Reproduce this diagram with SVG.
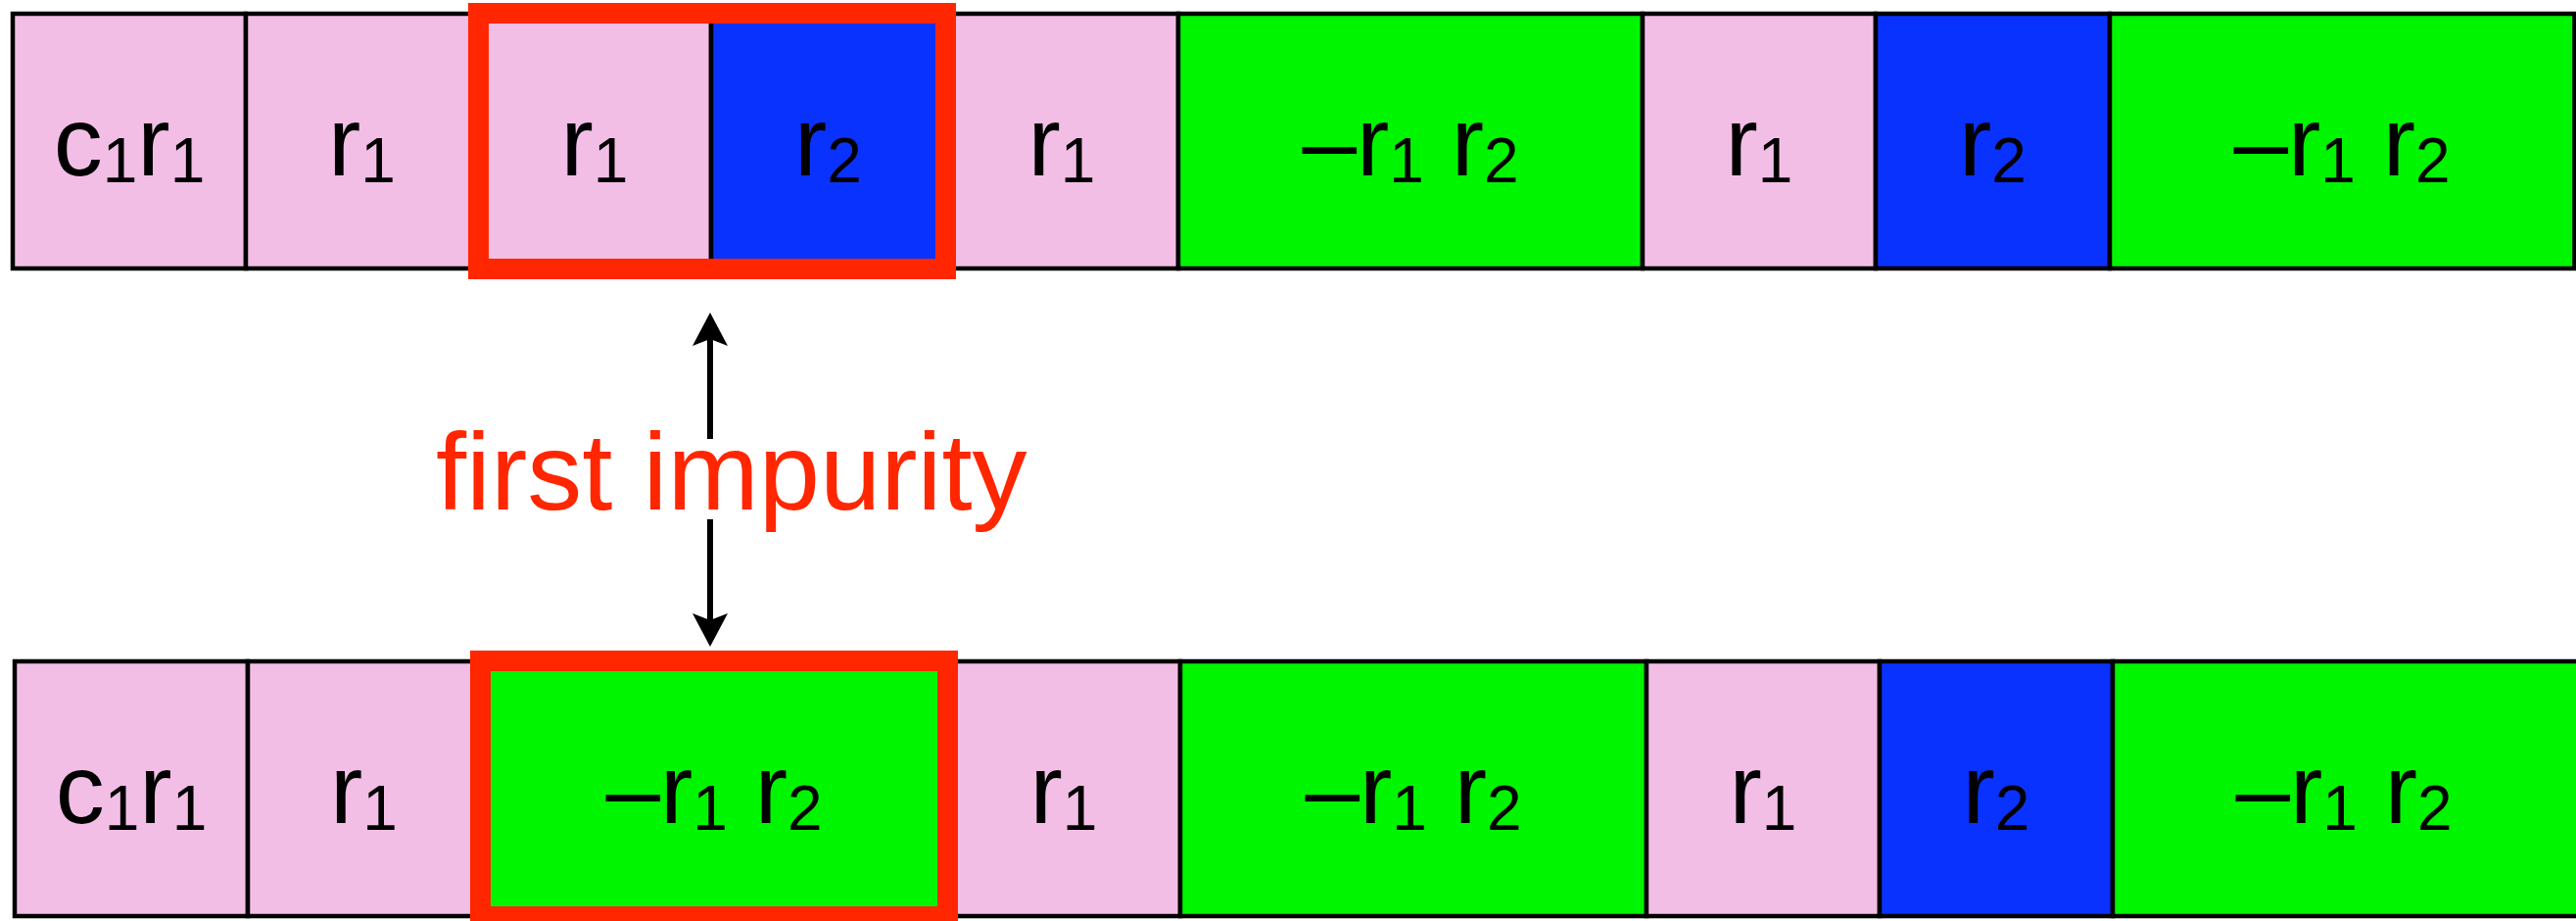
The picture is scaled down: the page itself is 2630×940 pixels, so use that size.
<svg xmlns="http://www.w3.org/2000/svg" width="2630" height="940" viewBox="0 0 2630 940">
  <style>
    .cell { stroke: #000; stroke-width: 4.5; }
    .pink { fill: #F2BEE6; }
    .blue { fill: #0A32FF; }
    .green { fill: #00F500; }
    .lbl { font-family: "Liberation Sans", Arial, sans-serif; font-size: 100px; fill: #000; text-anchor: middle; }
    .sub { font-size: 64px; }
    .hl { fill: none; stroke: #FF2600; stroke-width: 21; }
    .note { font-family: "Liberation Sans", Arial, sans-serif; font-size: 112px; fill: #FF2600; }
    .arrow { stroke: #000; stroke-width: 6; fill: none; marker-end: url(#head); }
  </style>
  <defs>
    <marker id="head" markerUnits="userSpaceOnUse" markerWidth="34" markerHeight="36" viewBox="0 0 34 36" refX="23" refY="18" orient="auto">
      <path d="M0,0 L34,18 L0,36 L7,18 Z" fill="#000"/>
    </marker>
  </defs>
  <rect width="2630" height="940" fill="#fff"/>

  <!-- upper sequence -->
  <g id="top-row">
    <g id="t1"><rect class="cell pink" x="13" y="14" width="238" height="260"/>
      <text class="lbl" x="132" y="179">c<tspan class="sub" dy="7">1</tspan><tspan dy="-7">r</tspan><tspan class="sub" dy="7">1</tspan></text></g>
    <g id="t2"><rect class="cell pink" x="251" y="14" width="237.5" height="260"/>
      <text class="lbl" x="369.5" y="179">r<tspan class="sub" dy="7">1</tspan></text></g>
    <g id="t3"><rect class="cell pink" x="488.5" y="14" width="237.5" height="260"/>
      <text class="lbl" x="607" y="179">r<tspan class="sub" dy="7">1</tspan></text></g>
    <g id="t4"><rect class="cell blue" x="726" y="14" width="239.5" height="260"/>
      <text class="lbl" x="845.5" y="179">r<tspan class="sub" dy="7">2</tspan></text></g>
    <g id="t5"><rect class="cell pink" x="965.5" y="14" width="237.5" height="260"/>
      <text class="lbl" x="1084" y="179">r<tspan class="sub" dy="7">1</tspan></text></g>
    <g id="t6"><rect class="cell green" x="1203" y="14" width="474" height="260"/>
      <text class="lbl" x="1440" y="179">–r<tspan class="sub" dy="7">1</tspan><tspan dy="-7"> r</tspan><tspan class="sub" dy="7">2</tspan></text></g>
    <g id="t7"><rect class="cell pink" x="1677" y="14" width="238" height="260"/>
      <text class="lbl" x="1796" y="179">r<tspan class="sub" dy="7">1</tspan></text></g>
    <g id="t8"><rect class="cell blue" x="1915" y="14" width="239" height="260"/>
      <text class="lbl" x="2034.5" y="179">r<tspan class="sub" dy="7">2</tspan></text></g>
    <g id="t9"><rect class="cell green" x="2154" y="14" width="474.5" height="260"/>
      <text class="lbl" x="2391" y="179">–r<tspan class="sub" dy="7">1</tspan><tspan dy="-7"> r</tspan><tspan class="sub" dy="7">2</tspan></text></g>
    <rect id="top-highlight" class="hl" x="488.5" y="13.5" width="477" height="261"/>
  </g>

  <!-- lower sequence -->
  <g id="bottom-row">
    <g id="b1"><rect class="cell pink" x="15" y="675" width="238" height="260"/>
      <text class="lbl" x="134" y="840">c<tspan class="sub" dy="7">1</tspan><tspan dy="-7">r</tspan><tspan class="sub" dy="7">1</tspan></text></g>
    <g id="b2"><rect class="cell pink" x="253" y="675" width="237.5" height="260"/>
      <text class="lbl" x="371.5" y="840">r<tspan class="sub" dy="7">1</tspan></text></g>
    <g id="b3"><rect class="cell green" x="490.5" y="675" width="477" height="260"/>
      <text class="lbl" x="729" y="840">–r<tspan class="sub" dy="7">1</tspan><tspan dy="-7"> r</tspan><tspan class="sub" dy="7">2</tspan></text></g>
    <g id="b4"><rect class="cell pink" x="967.5" y="675" width="237.5" height="260"/>
      <text class="lbl" x="1086" y="840">r<tspan class="sub" dy="7">1</tspan></text></g>
    <g id="b5"><rect class="cell green" x="1205" y="675" width="476" height="260"/>
      <text class="lbl" x="1443" y="840">–r<tspan class="sub" dy="7">1</tspan><tspan dy="-7"> r</tspan><tspan class="sub" dy="7">2</tspan></text></g>
    <g id="b6"><rect class="cell pink" x="1681" y="675" width="238" height="260"/>
      <text class="lbl" x="1800" y="840">r<tspan class="sub" dy="7">1</tspan></text></g>
    <g id="b7"><rect class="cell blue" x="1919" y="675" width="238" height="260"/>
      <text class="lbl" x="2038" y="840">r<tspan class="sub" dy="7">2</tspan></text></g>
    <g id="b8"><rect class="cell green" x="2157" y="675" width="476" height="260"/>
      <text class="lbl" x="2393" y="840">–r<tspan class="sub" dy="7">1</tspan><tspan dy="-7"> r</tspan><tspan class="sub" dy="7">2</tspan></text></g>
    <rect id="bottom-highlight" class="hl" x="490.5" y="674.5" width="477" height="261"/>
  </g>

  <!-- label between the rows -->
  <g id="label">
    <text class="note" x="445" y="520">first impurity</text>
  </g>

  <!-- double-headed pointer, split around the label -->
  <g id="connectors">
    <line class="arrow" x1="725" y1="448" x2="725" y2="330"/>
    <line class="arrow" x1="725" y1="530" x2="725" y2="649"/>
  </g>
</svg>
